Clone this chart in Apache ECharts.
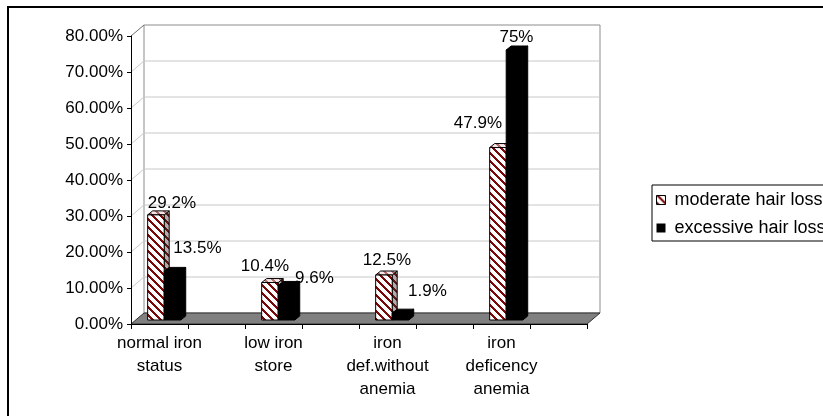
<!DOCTYPE html>
<html>
<head>
<meta charset="utf-8">
<script src="https://cdn.jsdelivr.net/npm/echarts@6/dist/echarts.min.js"></script>
<style>
  html, body { margin: 0; padding: 0; background: #fff; }
  #chart { width: 823px; height: 416px; }
</style>
</head>
<body>
<div id="chart"></div>
<script>
// ---- data ----
const categories = ['normal iron\nstatus', 'low iron\nstore', 'iron\ndef.without\nanemia', 'iron\ndeficency\nanemia'];
const seriesNames = ['moderate hair loss', 'excessive hair loss'];
const moderateHairLoss = [29.2, 10.4, 12.5, 47.9];
const excessiveHairLoss = [13.5, 9.6, 1.9, 75];
const yMin = 0, yMax = 80, yStep = 10;

// ---- layout / style ----
const FONT = "'Liberation Sans', Arial, sans-serif";
const WALL_DEPTH = [13, -11];   // back wall offset from the front plane
const BAR_SHIFT = [4.7, -4];    // bar front faces sit a little behind the front plane
const BAR_DEPTH = [5, -4];      // thickness of each 3D column
const BAR_FRAC = 0.29;          // column width as a share of a slot
// label nudges (dx, dy) from the top centre of each column
const moderateLabelNudge = [[16, -12], [-5, -16], [3, -15], [-20, -24]];
const excessiveLabelNudge = [[25, -23], [28, -7], [27, -22], [2, -13]];

// every category gets a spacer slot after it
const axisSlots = categories.flatMap(c => [c, '']);

function stripePattern(fg, bg) {
  const c = document.createElement('canvas');
  c.width = 8; c.height = 8;
  const g = c.getContext('2d');
  g.fillStyle = bg; g.fillRect(0, 0, 8, 8);
  g.fillStyle = fg;
  for (let y = 0; y < 8; y++) {
    for (let x = 0; x < 8; x++) {
      if ((((x - y) % 8) + 8) % 8 < 3) g.fillRect(x, y, 1, 1);
    }
  }
  return { image: c, repeat: 'repeat' };
}

const stripeFront = stripePattern('#7a0a0a', '#ffffff');
const stripeTop = stripePattern('#b07070', '#f4e6e6');
const stripeSide = stripePattern('#5a1a1a', '#b8a8a8');

const faceStyles = [
  { front: stripeFront, top: stripeTop, side: stripeSide, stroke: '#000' },
  { front: '#000', top: '#000', side: '#000', stroke: '#000' }
];
const labelNudges = [moderateLabelNudge, excessiveLabelNudge];

function renderBackdrop(params, api) {
  const cs = params.coordSys;
  const L = cs.x, R = cs.x + cs.width, T = cs.y, B = cs.y + cs.height;
  const dx = WALL_DEPTH[0], dy = WALL_DEPTH[1];
  const children = [];
  // back wall
  children.push({
    type: 'rect',
    shape: { x: L + dx, y: T + dy, width: R - L, height: B - T },
    style: { fill: '#fff', stroke: '#8c8c8c', lineWidth: 1 }
  });
  // gridlines on back wall and side wall
  for (let v = yMin + yStep; v <= yMax; v += yStep) {
    const y = api.coord([0, v])[1];
    if (v < yMax) {
      children.push({
        type: 'line',
        shape: { x1: L + dx, y1: y + dy, x2: R + dx, y2: y + dy },
        style: { stroke: '#c8c8c8', lineWidth: 1 }
      });
    }
    children.push({
      type: 'line',
      shape: { x1: L, y1: y, x2: L + dx, y2: y + dy },
      style: { stroke: v === yMax ? '#6e6e6e' : '#c8c8c8', lineWidth: 1 }
    });
  }
  // floor
  children.push({
    type: 'polygon',
    shape: { points: [[L, B], [R, B], [R + dx, B + dy], [L + dx, B + dy]] },
    style: { fill: '#808080', stroke: '#303030', lineWidth: 1 }
  });
  return { type: 'group', children: children };
}

function makeBarRenderer(s) {
  return function (params, api) {
    const slot = api.value(0);
    const v = api.value(1);
    const base = api.coord([slot, 0]);
    const top = api.coord([slot, v]);
    const w = api.size([1, 0])[0] * BAR_FRAC;
    const x0 = base[0] + BAR_SHIFT[0] - w + s * w;
    const yb = base[1] + BAR_SHIFT[1];
    const yt = top[1] + BAR_SHIFT[1];
    const bx = BAR_DEPTH[0], by = BAR_DEPTH[1];
    const st = faceStyles[s];
    const nudge = labelNudges[s][params.dataIndex];
    return {
      type: 'group',
      children: [
        {
          type: 'polygon',
          shape: { points: [[x0 + w, yt], [x0 + w + bx, yt + by], [x0 + w + bx, yb + by], [x0 + w, yb]] },
          style: { fill: st.side, stroke: st.stroke, lineWidth: 1 }
        },
        {
          type: 'polygon',
          shape: { points: [[x0, yt], [x0 + w, yt], [x0 + w + bx, yt + by], [x0 + bx, yt + by]] },
          style: { fill: st.top, stroke: st.stroke, lineWidth: 1 }
        },
        {
          type: 'rect',
          shape: { x: x0, y: yt, width: w, height: yb - yt },
          style: { fill: st.front, stroke: st.stroke, lineWidth: 1 }
        },
        {
          type: 'text',
          x: x0 + w / 2 + nudge[0],
          y: yt + nudge[1],
          style: {
            text: v + '%',
            fill: '#000',
            font: '17px ' + FONT,
            align: 'center',
            verticalAlign: 'middle'
          }
        }
      ]
    };
  };
}

const valueSets = [moderateHairLoss, excessiveHairLoss];
const barSeries = valueSets.map((vals, s) => ({
  type: 'custom',
  name: seriesNames[s],
  coordinateSystem: 'cartesian2d',
  renderItem: makeBarRenderer(s),
  clip: false,
  silent: true,
  z: 3,
  itemStyle: { color: s === 0 ? stripeFront : '#000' },
  encode: { x: 0, y: 1 },
  data: vals.map((v, i) => [i * 2, v])
}));

const chart = echarts.init(document.getElementById('chart'), null, { renderer: 'canvas' });
chart.setOption({
  animation: false,
  backgroundColor: '#fff',
  textStyle: { fontFamily: FONT },
  graphic: [{
    type: 'rect',
    shape: { x: 8, y: 7, width: 1000, height: 1000 },
    style: { fill: 'none', stroke: '#000', lineWidth: 2 },
    silent: true
  }],
  grid: { left: 131, top: 36, width: 456, height: 288, containLabel: false },
  legend: {
    orient: 'vertical',
    left: 652,
    top: 185,
    padding: [5, 30, 3, 4],
    borderColor: '#000',
    borderWidth: 1,
    itemWidth: 9,
    itemHeight: 9,
    itemGap: 8,
    icon: 'rect',
    textStyle: { fontSize: 18, color: '#000', fontFamily: FONT, lineHeight: 20, padding: [0, 0, 0, 4] },
    data: [
      { name: seriesNames[0], itemStyle: { color: stripeFront, borderColor: '#000', borderWidth: 1 } },
      { name: seriesNames[1], itemStyle: { color: '#000' } }
    ]
  },
  xAxis: {
    type: 'category',
    data: axisSlots,
    boundaryGap: true,
    z: 5,
    axisLine: { show: true, lineStyle: { color: '#000', width: 1 } },
    axisTick: { show: true, interval: 0, length: 5, lineStyle: { color: '#000' } },
    axisLabel: { interval: 0, fontSize: 17, lineHeight: 23, color: '#000', margin: 8, fontFamily: FONT },
    splitLine: { show: false }
  },
  yAxis: {
    type: 'value',
    min: yMin,
    max: yMax,
    interval: yStep,
    z: 5,
    axisLine: { show: true, lineStyle: { color: '#000', width: 1 } },
    axisTick: { show: true, length: 4, lineStyle: { color: '#000' } },
    axisLabel: {
      fontSize: 17, color: '#000', margin: 8, fontFamily: FONT,
      formatter: v => v.toFixed(2) + '%'
    },
    splitLine: { show: false }
  },
  series: [{
    type: 'custom',
    name: 'backdrop',
    coordinateSystem: 'cartesian2d',
    renderItem: renderBackdrop,
    clip: false,
    silent: true,
    z: 1,
    data: [[0, 0]]
  }].concat(barSeries)
});
</script>
</body>
</html>
